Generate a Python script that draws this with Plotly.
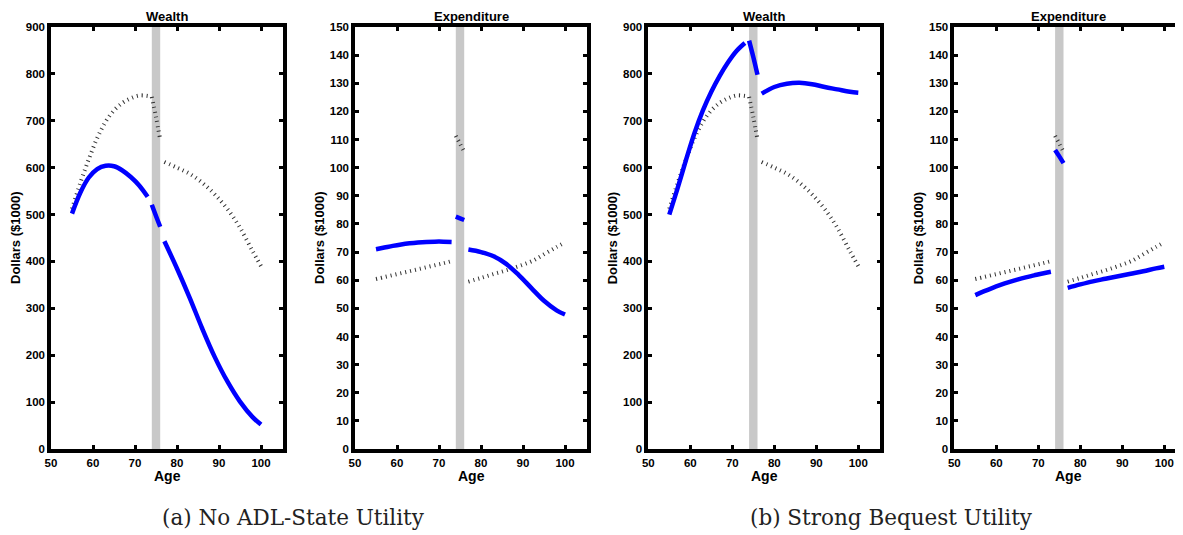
import plotly.graph_objects as go

# ---------------- data ----------------
ages_pre = [55, 57, 59, 61, 63, 65, 67, 69, 71, 73]
ages_adl = [74, 75, 76]
ages_post = [77, 80, 83, 86, 89, 92, 95, 98, 100]

# baseline (dotted) wealth / expenditure, same in both scenarios
base_wealth_pre = [512, 568, 618, 663, 698, 722, 738, 748, 754, 753]
base_wealth_adl = [751, 708, 660]
base_wealth_post = [612, 600, 587, 568, 543, 512, 472, 422, 390]

base_exp_pre = [60.4, 61.1, 61.8, 62.5, 63.2, 63.9, 64.6, 65.3, 66.0, 66.8]
base_exp_adl = [111.3, 108.5, 105.7]
base_exp_post = [59.5, 60.8, 62.2, 63.5, 65.0, 66.7, 69.2, 71.8, 73.5]

# (a) No ADL-State Utility
a_wealth_pre = [502, 547, 579, 597, 604, 603, 594, 580, 562, 538]
a_wealth_adl = [521, 497, 474]
a_wealth_post = [443, 385, 323, 257, 196, 144, 101, 68, 52]

a_exp_pre = [71.0, 71.6, 72.2, 72.7, 73.1, 73.4, 73.6, 73.7, 73.7, 73.6]
a_exp_adl = [82.6, 82.0, 81.4]
a_exp_post = [70.9, 70.0, 68.5, 65.8, 61.8, 57.2, 52.7, 49.3, 47.8]

# (b) Strong Bequest Utility
b_wealth_pre = [500, 557, 617, 674, 722, 762, 796, 825, 849, 866]
b_wealth_adl = [871, 836, 798]
b_wealth_post = [758, 772, 779, 781, 778, 772, 767, 762, 760]

b_exp_pre = [54.7, 56.0, 57.2, 58.3, 59.3, 60.2, 61.0, 61.7, 62.4, 63.0]
b_exp_adl = [106.3, 104.0, 101.6]
b_exp_post = [57.3, 58.5, 59.6, 60.5, 61.4, 62.3, 63.2, 64.2, 64.8]

panel_titles = ["Wealth", "Expenditure", "Wealth", "Expenditure"]
captions = ["(a) No ADL-State Utility", "(b) Strong Bequest Utility"]
adl_band = [74, 76]

panels = [
    (base_wealth_pre, base_wealth_adl, base_wealth_post, a_wealth_pre, a_wealth_adl, a_wealth_post, 900, 100),
    (base_exp_pre, base_exp_adl, base_exp_post, a_exp_pre, a_exp_adl, a_exp_post, 150, 10),
    (base_wealth_pre, base_wealth_adl, base_wealth_post, b_wealth_pre, b_wealth_adl, b_wealth_post, 900, 100),
    (base_exp_pre, base_exp_adl, base_exp_post, b_exp_pre, b_exp_adl, b_exp_post, 150, 10),
]

# ---------------- layout geometry (page pixels; page has an 8px body margin) ----------------
OFF = 8
W, H = 1183 - OFF, 535 - OFF
left_px = [51, 355, 648.3, 954.3]
right_px = [283, 587, 880.3, 1183]
top_px, bottom_px = 27, 449
px_per_year = 4.2


def px_x(p):
    return (p - OFF) / W


def px_y(p):
    return 1 - (p - OFF) / H


fig = go.Figure()
font_family = "Liberation Sans, Arial, sans-serif"

for i, (bp, ba, bq, sp, sa, sq, ymax, dy) in enumerate(panels):
    xa = "x" if i == 0 else f"x{i+1}"
    ya = "y" if i == 0 else f"y{i+1}"
    segs_x = [ages_pre, ages_adl, ages_post]
    for xs, ys in zip(segs_x, [bp, ba, bq]):
        fig.add_trace(go.Scatter(
            x=xs, y=ys, mode="lines", xaxis=xa, yaxis=ya,
            line=dict(color="#333333", width=4, dash="1px,4px", shape="spline"),
            showlegend=False, hoverinfo="skip"))
    for xs, ys in zip(segs_x, [sp, sa, sq]):
        fig.add_trace(go.Scatter(
            x=xs, y=ys, mode="lines", xaxis=xa, yaxis=ya,
            line=dict(color="#0000ff", width=4.5, shape="spline"),
            showlegend=False, hoverinfo="skip"))

    xmax = 50 + (right_px[i] - left_px[i]) / px_per_year
    axis_common = dict(
        showline=True, linecolor="black", linewidth=3.5, mirror="ticks",
        ticks="inside", ticklen=4, tickwidth=3, tickcolor="black",
        showgrid=False, zeroline=False, automargin=False,
        tickfont=dict(family=font_family, size=11.5, color="black", weight="bold"),
    )
    xkey = "xaxis" if i == 0 else f"xaxis{i+1}"
    ykey = "yaxis" if i == 0 else f"yaxis{i+1}"
    fig.update_layout(**{
        xkey: dict(domain=[px_x(left_px[i]), min(1.0, px_x(right_px[i]))], range=[50, xmax],
                   tickvals=[50, 60, 70, 80, 90, 100], anchor=ya, **axis_common),
        ykey: dict(domain=[px_y(bottom_px), px_y(top_px)], range=[0, ymax], dtick=dy,
                   anchor=xa, **axis_common),
    })
    fig.add_shape(type="rect", xref=xa, yref=f"{ya} domain", x0=adl_band[0], x1=adl_band[1],
                  y0=0, y1=1, fillcolor="#c8c8c8", line=dict(width=0), layer="below")

    cxp = (left_px[i] + min(right_px[i], left_px[i] + 232)) / 2
    fig.add_annotation(text=panel_titles[i], x=px_x(cxp), y=px_y(16.5), xref="paper", yref="paper",
                       showarrow=False, xanchor="center", yanchor="middle",
                       font=dict(family=font_family, size=13, color="black", weight="bold"))
    fig.add_annotation(text="Age", x=px_x(cxp), y=px_y(476), xref="paper", yref="paper",
                       showarrow=False, xanchor="center", yanchor="middle",
                       font=dict(family=font_family, size=14, color="black", weight="bold"))
    fig.add_annotation(text="Dollars ($1000)", x=px_x(left_px[i] - 36), y=px_y(238),
                       xref="paper", yref="paper", textangle=-90,
                       showarrow=False, xanchor="center", yanchor="middle",
                       font=dict(family=font_family, size=13, color="black", weight="bold"))

for cap, cxp in zip(captions, [293, 891]):
    fig.add_annotation(text=cap, x=px_x(cxp), y=px_y(517), xref="paper", yref="paper",
                       showarrow=False, xanchor="center", yanchor="middle",
                       font=dict(family="DejaVu Serif, Liberation Serif, serif", size=21.5, color="#222"))

fig.update_layout(width=W, height=H, margin=dict(l=0, r=0, t=0, b=0),
                  paper_bgcolor="white", plot_bgcolor="white", showlegend=False)

fig.write_html("out.html")
